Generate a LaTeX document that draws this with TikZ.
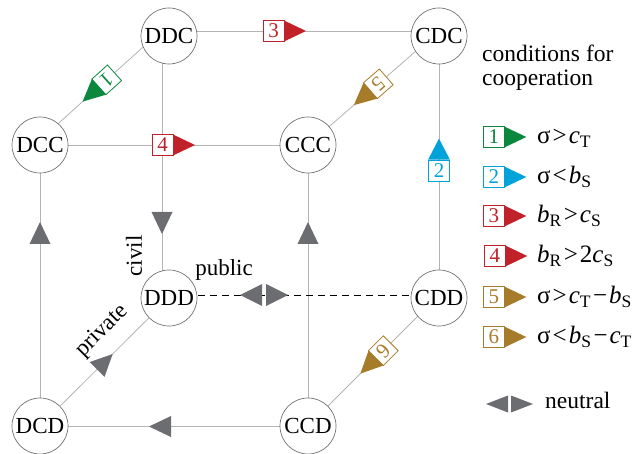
\documentclass[tikz,border=0pt]{standalone}
\usepackage{fontspec}
\setmainfont{Liberation Serif}
\usetikzlibrary{backgrounds}
\definecolor{cgreen}{RGB}{11,135,62}
\definecolor{ccyan}{RGB}{0,163,217}
\definecolor{cred}{RGB}{193,33,41}
\definecolor{cgold}{RGB}{166,124,42}
\definecolor{agray}{RGB}{108,109,113}
\definecolor{lgray}{RGB}{180,180,180}
\definecolor{cgray}{RGB}{115,115,115}
\tikzset{
  state/.style={circle, draw=cgray, fill=white, minimum size=56pt, inner sep=0pt,
    line width=0.7pt, font=\fontsize{23}{23}\selectfont},
  cline/.style={draw=lgray, line width=0.8pt},
  dline/.style={draw=black, line width=0.7pt, dash pattern=on 7pt off 5pt},
  mbox/.style={rectangle, fill=white, minimum width=21pt, minimum height=21pt,
    inner sep=0pt, line width=0.8pt, font=\fontsize{21}{21}\selectfont},
  garrow/.style={fill=agray},
  lbl/.style={font=\fontsize{23}{23}\selectfont, inner sep=0pt},
  legtext/.style={font=\fontsize{23.5}{23.5}\selectfont, inner sep=0pt, anchor=base west},
  legmath/.style={font=\fontsize{25}{25}\selectfont, inner sep=0pt, anchor=base west}
}
% #1 name, #2 junction point, #3 angle, #4 colour, #5 digit
\newcommand\CondMark[5]{%
  \begin{scope}[shift={(#2)}, rotate=#3, transform shape]
    \node[mbox, draw=#4, text=#4] (#1) at (-10.5,0) {#5};
    \fill[#4] (0,-10.5) -- (22,0) -- (0,10.5) -- cycle;
  \end{scope}}
% #1 tip point, #2 angle, #3 half width
\newcommand\GrayTip[3]{%
  \fill[garrow, shift={(#1)}, rotate=#2] (0,0) -- (-22,-#3) -- (-22,#3) -- cycle;}
\begin{document}
\begin{tikzpicture}[x=1pt,y=-1pt]
\useasboundingbox (0,0) rectangle (642,454);
% states
\node[state] (DDC) at (169,36) {DDC};
\node[state] (CDC) at (439,36) {CDC};
\node[state] (DCC) at (40,145) {DCC};
\node[state] (CCC) at (308,145) {CCC};
\node[state] (DDD) at (169,298) {DDD};
\node[state] (CDD) at (439,298) {CDD};
\node[state] (DCD) at (40,426) {DCD};
\node[state] (CCD) at (308,426) {CCD};
% connectors
\begin{scope}[on background layer]
\draw[cline] ([shift={(-7,-5)}]DDC.center) -- ([shift={(0,-5)}]CDC.center);
\draw[cline] ([shift={(-7,-6)}]DDC.center) -- ([shift={(0,-5)}]DCC.center);
\draw[cline] ([shift={(-7,-5)}]DDC.center) -- ([shift={(-7,-3)}]DDD.center);
\draw[cline] (DCC) -- (CCC);
\draw[cline] ([shift={(0,-5)}]CDC.center) -- (CCC.center);
\draw[cline] (CDC) -- (CDD);
\draw[cline] (DCC) -- (DCD);
\draw[cline] (CCC) -- (CCD);
\draw[dline] ([shift={(-7,-3)}]DDD.center) -- ([shift={(0,-3)}]CDD.center);
\draw[cline] (DCD.center) -- (DDD.center);
\draw[cline] ([shift={(0,-3)}]CDD.center) -- (CCD.center);
\draw[cline] (DCD) -- (CCD);
\end{scope}
% condition markers
\CondMark{m1}{98.9,86.9}{222}{cgreen}{1}
\CondMark{m3}{284,31}{0}{cred}{3}
\CondMark{m4}{173,145}{0}{cred}{4}
\CondMark{m5}{370.4,90.7}{221}{cgold}{5}
\CondMark{m6}{375.9,358.1}{225}{cgold}{6}
\node[mbox, draw=ccyan, text=ccyan] (m2) at (439,170.5) {2};
\fill[ccyan] (m2.north west) -- ([yshift=21pt]m2.north) -- (m2.north east) -- cycle;
% gray arrows
\GrayTip{162,234}{270}{10.5}
\GrayTip{40,222}{90}{10.5}
\GrayTip{308,222}{90}{10.5}
\GrayTip{149,426.5}{180}{10.5}
\GrayTip{112.7,354}{44.8}{10.5}
\GrayTip{240,295}{180}{11}
\GrayTip{288,295}{0}{11}
% axis labels
\node[lbl, rotate=90] (civil) at (134,256) {civil};
\node[lbl, anchor=base] (public) at (224,276) {public};
\node[lbl, rotate=45] (private) at (102,331) {private};
% legend
\node[legtext] (cond1) at (482,62) {conditions for};
\node[legtext] (cond2) at (482,86) {cooperation};
\CondMark{L1}{504.3,137}{0}{cgreen}{1}
\CondMark{L2}{504.3,177}{0}{ccyan}{2}
\CondMark{L3}{504.3,216}{0}{cred}{3}
\CondMark{L4}{505.3,256}{0}{cred}{4}
\CondMark{L5}{504.3,297}{0}{cgold}{5}
\CondMark{L6}{504.3,337}{0}{cgold}{6}
\node[legmath] (r1) at (537,143.5) {σ\kern2pt>\kern2pt\textit{c}\textsubscript{T}};
\node[legmath] (r2) at (537,183.5) {σ\kern2pt<\kern2pt\textit{b}\textsubscript{S}};
\node[legmath] (r3) at (537,222.5) {\textit{b}\textsubscript{R}\kern2pt>\kern2pt\textit{c}\textsubscript{S}};
\node[legmath] (r4) at (537,262.5) {\textit{b}\textsubscript{R}\kern2pt>\kern2pt2\textit{c}\textsubscript{S}};
\node[legmath] (r5) at (537,303.5) {σ\kern2pt>\kern2pt\textit{c}\textsubscript{T}\kern2pt−\kern2pt\textit{b}\textsubscript{S}};
\node[legmath] (r6) at (537,343.5) {σ\kern2pt<\kern2pt\textit{b}\textsubscript{S}\kern2pt−\kern2pt\textit{c}\textsubscript{T}};
\GrayTip{486,404}{180}{8.5}
\GrayTip{533,404}{0}{8.5}
\node[legtext] (neutral) at (545,408) {neutral};
\end{tikzpicture}
\end{document}
